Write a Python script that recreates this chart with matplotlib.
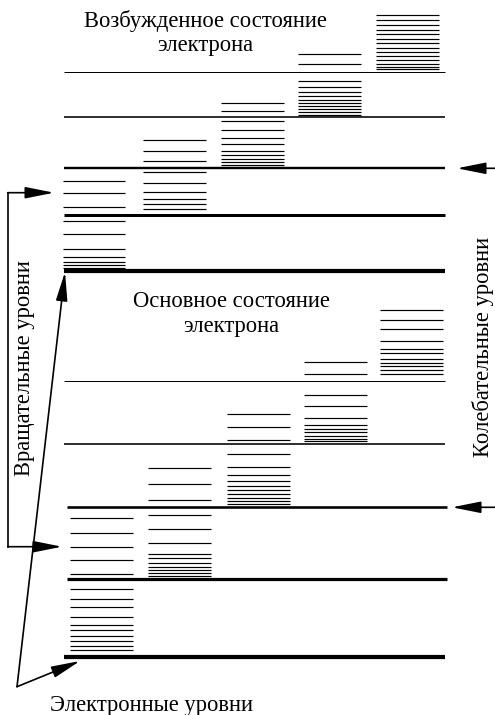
import matplotlib
matplotlib.use('Agg')
import matplotlib.pyplot as plt

plt.rcParams['font.family'] = ['Liberation Serif', 'DejaVu Serif']

# electronic + vibrational levels (y in px, top = 0)
exc_levels = [71.5, 116.5, 168.3, 215.2, 270.5]
exc_widths = [1.0, 1.6, 2.4, 3.0, 4.2]
gnd_levels = [381.0, 443.8, 507.4, 579.3, 657.3]
gnd_widths = [1.0, 1.6, 2.6, 3.2, 4.2]
gnd_x = [(64, 445), (64, 445), (67, 447), (67, 447), (64, 445)]

# rotational sub-levels, one column per vibrational level
exc_cols_x = [(63, 125), (143, 206), (221, 284), (298, 361), (376, 439)]
exc_rot = [
    [180.7, 193.3, 206.7, 221, 234.3, 249.3, 257.3, 262.2, 265, 267.5],
    [140, 150.5, 161.3, 172, 183, 191.7, 199.3, 203.5, 208.5],
    [103, 111.3, 120.7, 129.5, 138, 144.3, 150.5, 155, 159, 162, 164.5],
    [54, 64, 80.5, 87, 92, 96, 99.5, 103, 106, 109, 112, 114.5],
    [15, 20, 25, 29.5, 34, 38.5, 43, 47.5, 52, 56, 60, 63.5, 66.5, 69],
]
gnd_cols_x = [(70, 133), (148, 211), (227, 290), (304, 367), (380, 443)]
gnd_rot = [
    [518.3, 533.3, 547.2, 560, 573.7, 588.8, 598.7, 607.3, 617.2, 625,
     630.3, 635.8, 640.8, 645.5, 649.5],
    [467.5, 484, 500.3, 515, 528.5, 542.7, 553.5, 558, 562.5, 566.8,
     570.2, 573.2, 576],
    [414, 426.8, 440.3, 454.2, 466.8, 475.2, 481, 486, 490, 494, 497.5,
     500.5, 503.5],
    [361.7, 373.7, 395.3, 406.3, 418.3, 424.5, 428.5, 432, 435.5, 438.5, 441],
    [309.7, 319.7, 329, 340.5, 348.5, 353, 358.5, 362.5, 366, 369.5, 373.5],
]

fig = plt.figure(figsize=(4.95, 7.15), dpi=100)
ax = fig.add_axes([0, 0, 1, 1])
ax.set_xlim(0, 495)
ax.set_ylim(715, 0)
ax.axis('off')

px = 0.72  # px -> pt at 100 dpi

for y, w in zip(exc_levels, exc_widths):
    ax.hlines(y, 64, 445, color='black', lw=w * px, capstyle='butt')
for y, w, (x0, x1) in zip(gnd_levels, gnd_widths, gnd_x):
    ax.hlines(y, x0, x1, color='black', lw=w * px, capstyle='butt')

for (x0, x1), ys in zip(exc_cols_x, exc_rot):
    ax.hlines(ys, x0, x1, color='black', lw=0.85, capstyle='butt')
for (x0, x1), ys in zip(gnd_cols_x, gnd_rot):
    ax.hlines(ys, x0, x1, color='black', lw=0.85, capstyle='butt')

# arrows
arr = dict(arrowstyle='-|>,head_length=1.1,head_width=0.22', color='black',
           lw=1.2, shrinkA=0, shrinkB=0, mutation_scale=16)

ax.plot([8.3, 8.3], [192.7, 546.7], color='black', lw=1.2)
ax.annotate('', xy=(54, 192.7), xytext=(7.7, 192.7), arrowprops=arr)
ax.annotate('', xy=(62, 546.7), xytext=(7.7, 546.7), arrowprops=arr)

ax.annotate('', xy=(65, 272), xytext=(17, 686.7), arrowprops=arr)
ax.annotate('', xy=(80, 661), xytext=(17, 686.7), arrowprops=arr)

ax.annotate('', xy=(457, 168.3), xytext=(495, 168.3), arrowprops=arr)
ax.annotate('', xy=(452, 507.3), xytext=(495, 507.3), arrowprops=arr)

# labels
fs = 16.3
ax.text(205, 26.7, 'Возбужденное состояние', fontsize=fs, ha='center', va='baseline')
ax.text(205, 51.5, 'электрона', fontsize=fs, ha='center', va='baseline')
ax.text(231, 306.7, 'Основное состояние', fontsize=fs, ha='center', va='baseline')
ax.text(231, 331.7, 'электрона', fontsize=fs, ha='center', va='baseline')
ax.text(151, 711.5, 'Электронные уровни', fontsize=fs, ha='center', va='baseline')
ax.text(25, 368, 'Вращательные уровни', fontsize=fs, ha='center', va='center',
        rotation=90)
ax.text(483, 347, 'Колебательные уровни', fontsize=fs, ha='center', va='center',
        rotation=90)

fig.savefig('out.png', dpi=100)
